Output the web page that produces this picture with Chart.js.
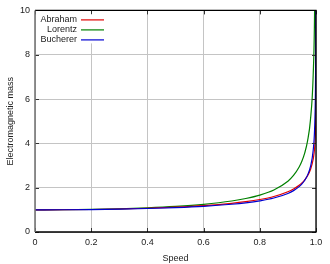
<!DOCTYPE html>
<html>
<head>
<meta charset="utf-8">
<script src="https://cdn.jsdelivr.net/npm/chart.js@4/dist/chart.umd.min.js"></script>
<style>
  html, body { margin: 0; padding: 0; background: #fff; }
  #mass-chart { display: block; }
</style>
</head>
<body>
<canvas id="mass-chart" width="330" height="264"></canvas>
<script>
// Speeds (fraction of c) and the mass
const speed = [0, 0.1, 0.2, 0.3, 0.4, 0.5, 0.6, 0.7, 0.75, 0.8, 0.85, 0.9, 0.92, 0.94, 0.95,
  0.96, 0.97, 0.98, 0.99, 0.995, 0.998, 0.999, 0.9995, 0.9999, 0.99999, 0.999999];
const abrahamMass = [1, 1.004, 1.016, 1.038, 1.071, 1.12, 1.19, 1.295, 1.369, 1.467, 1.604, 1.816,
  1.94, 2.107, 2.218, 2.356, 2.54, 2.808, 3.286, 3.779, 4.448, 4.955, 5.476, 6.678, 8.405, 10.13];
const lorentzMass = [1, 1.005, 1.021, 1.048, 1.091, 1.155, 1.25, 1.4, 1.512, 1.667, 1.898, 2.294,
  2.552, 2.931, 3.203, 3.571, 4.113, 5.025, 7.089, 10.01, 15.82, null, null, null, null, null];
const buchererMass = [1, 1.003, 1.014, 1.032, 1.06, 1.101, 1.16, 1.252, 1.317, 1.406, 1.533, 1.739,
  1.867, 2.048, 2.173, 2.337, 2.567, 2.934, 3.69, 4.645, 6.302, 7.94, 10.0, 17.1, null, null];

const xTicks = [0, 0.2, 0.4, 0.6, 0.8, 1];
const yTicks = [0, 2, 4, 6, 8, 10];

const FONT = 'Liberation Sans, Arial, sans-serif';

function toPoints(values) {
  return speed.map((s, i) => ({ x: s, y: values[i] }));
}

// Frame with inward ticks, gnuplot style
const framePlugin = {
  id: 'frame',
  afterDraw(chart) {
    const { ctx, chartArea: a, scales } = chart;
    ctx.save();
    ctx.lineWidth = 1;
    ctx.strokeStyle = '#333';
    xTicks.forEach(v => {
      const px = Math.round(scales.x.getPixelForValue(v)) + 0.5;
      ctx.beginPath();
      ctx.moveTo(px, a.bottom); ctx.lineTo(px, a.bottom - 4);
      ctx.moveTo(px, a.top); ctx.lineTo(px, a.top + 4);
      ctx.stroke();
    });
    yTicks.forEach(v => {
      const py = Math.round(scales.y.getPixelForValue(v)) + 0.5;
      ctx.beginPath();
      ctx.moveTo(a.left, py); ctx.lineTo(a.left + 4, py);
      ctx.moveTo(a.right, py); ctx.lineTo(a.right - 4, py);
      ctx.stroke();
    });
    ctx.lineWidth = 1.3;
    ctx.strokeStyle = '#000';
    ctx.beginPath();
    ctx.moveTo(a.left, a.top); ctx.lineTo(a.right, a.top);
    ctx.lineTo(a.right, a.bottom); ctx.lineTo(a.left, a.bottom);
    ctx.stroke();
    ctx.strokeStyle = '#777';
    ctx.lineWidth = 1.6;
    ctx.beginPath();
    ctx.moveTo(a.left, a.top); ctx.lineTo(a.left, a.bottom);
    ctx.stroke();
    ctx.restore();
  },
};

// Legend inside the plot, text right-aligned with the line sample after it
const insideLegend = {
  id: 'insideLegend',
  afterDraw(chart) {
    const { ctx, chartArea: a } = chart;
    ctx.save();
    ctx.fillStyle = '#fff';
    ctx.fillRect(a.left + 1, a.top + 4, 73, 29);
    ctx.font = '9px ' + FONT;
    ctx.textAlign = 'right';
    ctx.textBaseline = 'middle';
    chart.data.datasets.forEach((ds, i) => {
      const y = a.top + 9 + i * 10;
      ctx.fillStyle = '#222';
      ctx.fillText(ds.label, a.left + 42, y);
      ctx.strokeStyle = ds.borderColor;
      ctx.lineWidth = 1.2;
      ctx.beginPath();
      ctx.moveTo(a.left + 46, y + 0.5);
      ctx.lineTo(a.left + 69, y + 0.5);
      ctx.stroke();
    });
    ctx.restore();
  },
};

new Chart(document.getElementById('mass-chart'), {
  type: 'line',
  data: {
    datasets: [
      {
        label: 'Abraham',
        data: toPoints(abrahamMass),
        borderColor: '#e00000',
        order: 2,
      },
      {
        label: 'Lorentz',
        data: toPoints(lorentzMass),
        borderColor: '#008000',
        order: 3,
      },
      {
        label: 'Bucherer',
        data: toPoints(buchererMass),
        borderColor: '#0000d0',
        order: 1,
      },
    ],
  },
  options: {
    responsive: false,
    animation: false,
    layout: { padding: { top: 10, right: 14, left: 0, bottom: 0 } },
    elements: {
      point: { radius: 0 },
      line: { borderWidth: 1.2, cubicInterpolationMode: 'monotone', fill: false },
    },
    plugins: {
      legend: { display: false },
      tooltip: { enabled: false },
    },
    scales: {
      x: {
        type: 'linear',
        min: 0,
        max: 1,
        afterFit: scale => { scale.height = 32; },
        afterBuildTicks: scale => { scale.ticks = xTicks.map(v => ({ value: v })); },
        grid: { color: '#c4c4c4', drawTicks: false },
        border: { display: false },
        ticks: { padding: 5, color: '#222', font: { family: FONT, size: 9 } },
        title: {
          display: true,
          text: 'Speed',
          color: '#222',
          font: { family: FONT, size: 9 },
          padding: { top: 2, bottom: 0 },
        },
      },
      y: {
        min: 0,
        max: 10,
        afterFit: scale => { scale.width = 35; },
        afterBuildTicks: scale => { scale.ticks = yTicks.map(v => ({ value: v })); },
        grid: { color: '#c4c4c4', drawTicks: false },
        border: { display: false },
        ticks: { padding: 5, color: '#222', font: { family: FONT, size: 9 } },
        title: {
          display: true,
          text: 'Electromagnetic mass',
          color: '#222',
          font: { family: FONT, size: 9 },
          padding: { top: 5, bottom: 0 },
        },
      },
    },
  },
  plugins: [framePlugin, insideLegend],
});
</script>
</body>
</html>
